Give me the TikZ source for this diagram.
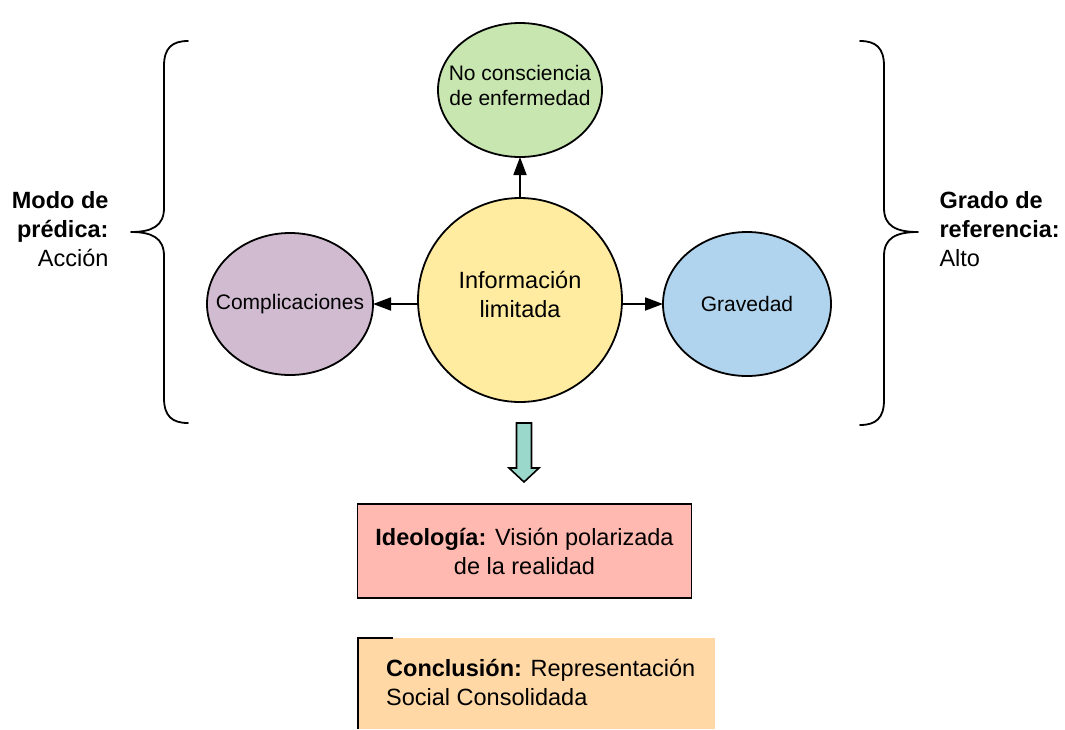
\documentclass[tikz,border=0pt]{standalone}
\usepackage{fontspec}
\setmainfont{Liberation Sans}
\usetikzlibrary{arrows.meta}
\definecolor{cgreen}{RGB}{200,230,175}
\definecolor{cyellow}{RGB}{255,236,160}
\definecolor{cpurple}{RGB}{209,187,209}
\definecolor{cblue}{RGB}{176,212,238}
\definecolor{cpink}{RGB}{255,185,176}
\definecolor{corange}{RGB}{255,216,166}
\definecolor{cteal}{RGB}{154,216,204}
\tikzset{
  arr/.style={line width=1.8pt, -{Triangle[length=18pt,width=13pt]}},
  brace/.style={line width=1.8pt, line cap=round, line join=round},
  small/.style={font=\fontsize{21}{25}\selectfont},
  big/.style={font=\fontsize{23.5}{29}\selectfont},
}
\begin{document}
\begin{tikzpicture}[x=1pt,y=-1pt]
\useasboundingbox (0,0) rectangle (1065,729);
% ellipses
\draw[fill=cgreen, line width=1.8pt] (520,90) ellipse [x radius=82, y radius=67];
\node[small, align=center] (green) at (520,85) {No consciencia\\de enfermedad};
\coordinate (greenb) at (520,157);
\draw[fill=cpurple, line width=1.8pt] (290,304) ellipse [x radius=83, y radius=71];
\node[small] (comp) at (290,304) {Complicaciones};
\coordinate (compe) at (373,304);
\draw[fill=cblue, line width=1.8pt] (747,304) ellipse [x radius=84, y radius=72];
\node[small] (grav) at (747,304) {Gravedad};
\coordinate (gravw) at (663,304);
\draw[fill=cyellow, line width=1.8pt] (520,300) circle [radius=102];
\node[big, align=center] (info) at (520,294) {Información\\limitada};
\coordinate (infon) at (520,198);
\coordinate (infow) at (418,304);
\coordinate (infoe) at (622,304);
% arrows
\draw[arr] (infon) -- (greenb);
\draw[arr] (infow) -- (compe);
\draw[arr] (infoe) -- (gravw);
% braces
\draw[brace] (188,41) .. controls (172,41) and (164,48) .. (164,66) -- (164,208)
  .. controls (164,226) and (152,232) .. (131,232)
  .. controls (152,232) and (164,238) .. (164,256) -- (164,398)
  .. controls (164,416) and (172,423) .. (188,423);
\draw[brace] (860,41) .. controls (876,41) and (884,48) .. (884,66) -- (884,208)
  .. controls (884,226) and (896,232) .. (918,232)
  .. controls (896,232) and (884,238) .. (884,256) -- (884,400)
  .. controls (884,418) and (876,425) .. (860,425);
% side labels
\node[big, align=right, anchor=east] (modo) at (112,229) {\textbf{Modo de}\\\textbf{prédica:}\\Acción};
\node[big, align=left, anchor=west] (grado) at (936,229) {\textbf{Grado de}\\\textbf{referencia:}\\Alto};
% teal block arrow
\draw[fill=cteal, line width=1.6pt, line join=miter] (516.5,423) -- (531.5,423) -- (531.5,468) -- (539,468)
  -- (524,482) -- (509,468) -- (516.5,468) -- cycle;
% ideology box
\node[draw=black, line width=1.8pt, fill=cpink, minimum width=334pt, minimum height=94pt,
  big, align=center, inner sep=0pt] (ideo) at (524.5,551) {\textbf{Ideología:} Visión polarizada\\de la realidad};
% conclusion box
\fill[corange] (357,638) rectangle (715,729);
\draw[line width=1.8pt] (393,638) -- (357.9,638) -- (357.9,729);
\node[big, align=left, anchor=west, inner sep=0pt] (concl) at (386,682) {\textbf{Conclusión:} Representación\\Social Consolidada};
\end{tikzpicture}
\end{document}
